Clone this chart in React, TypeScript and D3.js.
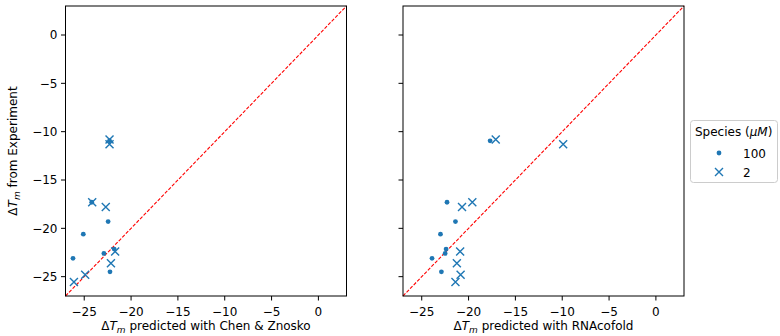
import React from "react";
import * as d3 from "d3";

// experiment values (y) for both species
const exp100 = [-10.95, -17.3, -19.3, -20.6, -22.15, -22.6, -23.1, -24.5];
const exp2 = [-10.8, -11.3, -17.3, -17.8, -22.4, -23.6, -24.8, -25.55];

// predictions (x)
const chen100 = [-22.3, -24.2, -22.45, -25.1, -21.8, -22.9, -26.2, -22.25];
const chen2 = [-22.3, -22.3, -24.15, -22.7, -21.7, -22.15, -24.9, -26.1];
const rna100 = [-17.7, -22.3, -21.4, -23.0, -22.4, -22.5, -23.9, -22.9];
const rna2 = [-17.1, -9.9, -19.6, -20.7, -20.9, -21.25, -20.85, -21.4];

const tickValues = [-25, -20, -15, -10, -5, 0];
const domain: [number, number] = [-27, 3];
const methods = ["Chen & Znosko", "RNAcofold"];
const speciesLabels = ["100", "2"];

const blue = "#1f77b4";
const font = "DejaVu Sans, sans-serif";

const DT = () => (
  <>
    <tspan>Δ</tspan>
    <tspan fontStyle="italic">T</tspan>
    <tspan fontStyle="italic" fontSize="9" dy="3">m</tspan>
    <tspan dy="-3"> </tspan>
  </>
);

const Cross = ({ x, y }: { x: number; y: number }) => {
  const s = 4;
  return (
    <path
      d={`M${x - s},${y - s}L${x + s},${y + s}M${x - s},${y + s}L${x + s},${y - s}`}
      stroke={blue}
      strokeWidth={1.4}
      fill="none"
    />
  );
};

function Panel({ left, xs100, xs2, label, showY }: any) {
  const top = 6;
  const w = 281;
  const h = 290;
  const x = d3.scaleLinear().domain(domain).range([left, left + w]);
  const y = d3.scaleLinear().domain(domain).range([top + h, top]);
  const fmt = d3.format("d");
  return (
    <g>
      <line
        x1={x(domain[0])}
        y1={y(domain[0])}
        x2={x(domain[1])}
        y2={y(domain[1])}
        stroke="red"
        strokeWidth={1.1}
        strokeDasharray="3.5,1.6"
      />
      {xs100.map((v: number, i: number) => (
        <circle key={"d" + i} cx={x(v)} cy={y(exp100[i])} r={2.4} fill={blue} />
      ))}
      {xs2.map((v: number, i: number) => (
        <Cross key={"c" + i} x={x(v)} y={y(exp2[i])} />
      ))}
      <rect x={left} y={top} width={w} height={h} fill="none" stroke="black" strokeWidth={1} />
      {tickValues.map((t) => (
        <g key={"x" + t}>
          <line x1={x(t)} x2={x(t)} y1={top + h} y2={top + h + 4.5} stroke="black" />
          <text x={x(t)} y={top + h + 20} textAnchor="middle" fontSize={12}>
            {fmt(t)}
          </text>
        </g>
      ))}
      {tickValues.map((t) => (
        <g key={"y" + t}>
          <line x1={left - 4.5} x2={left} y1={y(t)} y2={y(t)} stroke="black" />
          {showY && (
            <text x={left - 8} y={y(t) + 4.3} textAnchor="end" fontSize={12}>
              {fmt(t)}
            </text>
          )}
        </g>
      ))}
      <text x={left + w / 2} y={330} textAnchor="middle" fontSize={12}>
        <DT />
        predicted with {label}
      </text>
    </g>
  );
}

export default function App() {
  return (
    <div style={{ position: "absolute", left: 0, top: 0 }}>
      <svg width={780} height={336} style={{ display: "block", fontFamily: font }}>
        <rect width={780} height={336} fill="white" />
        <Panel left={65.5} xs100={chen100} xs2={chen2} label={methods[0]} showY />
        <Panel left={403} xs100={rna100} xs2={rna2} label={methods[1]} showY={false} />
        <text transform="translate(17,151) rotate(-90)" textAnchor="middle" fontSize={12}>
          <DT />
          from Experiment
        </text>
        <g>
          <rect x={690.5} y={120.5} width={87} height={62} rx={3} fill="white" fillOpacity={0.8} stroke="#cccccc" />
          <text x={695} y={136} fontSize={12}>
            Species (<tspan fontStyle="italic">μM</tspan>)
          </text>
          <circle cx={719} cy={153} r={2.4} fill={blue} />
          <text x={743} y={157.5} fontSize={12}>{speciesLabels[0]}</text>
          <Cross x={719} y={172} />
          <text x={743} y={176.5} fontSize={12}>{speciesLabels[1]}</text>
        </g>
      </svg>
    </div>
  );
}
